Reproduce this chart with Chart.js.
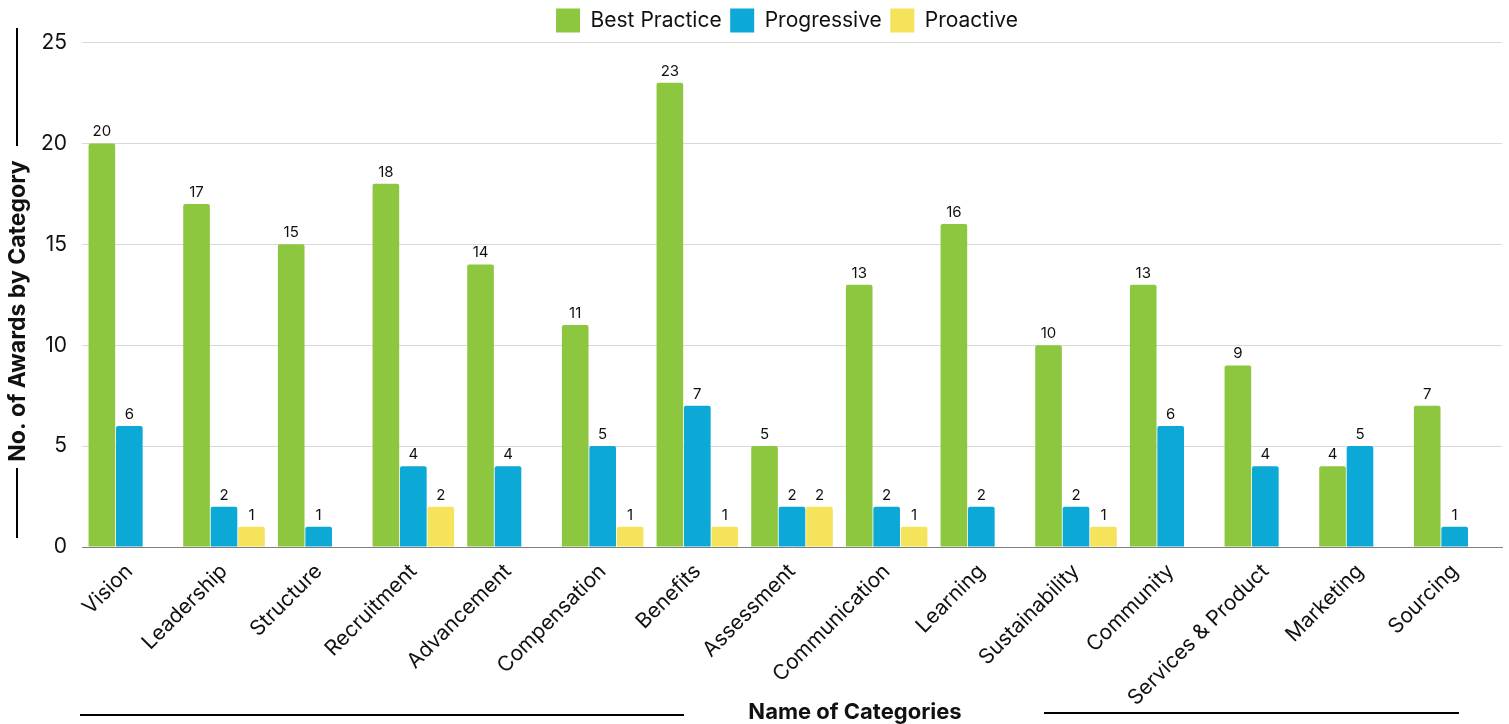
<!DOCTYPE html>
<html>
<head>
<meta charset="utf-8">
<title>Awards by Category</title>
<script src="https://cdn.jsdelivr.net/npm/chart.js@4.4.1/dist/chart.umd.min.js"></script>
<style>
    html, body { margin: 0; padding: 0; background: #fff; }
    #wrap { width: 1509px; height: 724px; position: relative; }
</style>
</head>
<body>
<div id="wrap"><canvas id="chart"></canvas></div>
<script>
const categories = [
    'Vision', 'Leadership', 'Structure', 'Recruitment', 'Advancement',
    'Compensation', 'Benefits', 'Assessment', 'Communication', 'Learning',
    'Sustainability', 'Community', 'Services & Product', 'Marketing', 'Sourcing',
];
const bestPractice = [20, 17, 15, 18, 14, 11, 23, 5, 13, 16, 10, 13, 9, 4, 7];
const progressive = [6, 2, 1, 4, 4, 5, 7, 2, 2, 2, 2, 6, 4, 5, 1];
const proactive = [0, 1, 0, 2, 0, 1, 1, 2, 1, 0, 1, 0, 0, 0, 0];
const yTicks = [0, 5, 10, 15, 20, 25];

const FONT = 'Inter, "Open Sans", sans-serif';
const TEXT = '#111111';

// values above bars, zeros left blank like the original
const valueLabels = {
    id: 'valueLabels',
    afterDatasetsDraw(chart) {
        const { ctx } = chart;
        ctx.save();
        ctx.font = `15px ${FONT}`;
        ctx.fillStyle = TEXT;
        ctx.textAlign = 'center';
        ctx.textBaseline = 'bottom';
        chart.data.datasets.forEach((ds, i) => {
            chart.getDatasetMeta(i).data.forEach((bar, j) => {
                const v = ds.data[j];
                if (!v) return;
                ctx.fillText(String(v), bar.x, bar.y - 4);
            });
        });
        ctx.restore();
    },
};

// the original legend sits a bit right of centre
const legendShift = {
    id: 'legendShift',
    afterLayout(chart) {
        chart.legend.left += 36;
        chart.legend.right += 36;
    },
};

// axis titles with the decorative rules either side
const axisTitles = {
    id: 'axisTitles',
    afterDraw(chart) {
        const { ctx } = chart;
        ctx.save();
        ctx.strokeStyle = '#000';
        ctx.lineWidth = 2;
        ctx.beginPath();
        ctx.moveTo(17, 28); ctx.lineTo(17, 146);
        ctx.moveTo(17, 468); ctx.lineTo(17, 538);
        ctx.moveTo(80, 715); ctx.lineTo(684, 715);
        ctx.moveTo(1044, 713); ctx.lineTo(1459, 713);
        ctx.stroke();

        ctx.fillStyle = TEXT;
        ctx.textAlign = 'center';
        ctx.textBaseline = 'middle';
        ctx.font = `bold 22px ${FONT}`;
        ctx.fillText('Name of Categories', 855, 712);

        ctx.font = `bold 23px ${FONT}`;
        ctx.translate(18, 311);
        ctx.rotate(-Math.PI / 2);
        ctx.fillText('No. of Awards by Category', 0, 0);
        ctx.restore();
    },
};

const bar = (label, data, color) => ({
    label,
    data,
    backgroundColor: color,
    borderWidth: 0,
    borderRadius: { topLeft: 2, topRight: 2 },
    borderSkipped: 'bottom',
    categoryPercentage: 0.87,
    barPercentage: 0.97,
});

new Chart(document.getElementById('chart'), {
    type: 'bar',
    data: {
        labels: categories,
        datasets: [
            bar('Best Practice', bestPractice, '#8dc63f'),
            bar('Progressive', progressive, '#0ca8d6'),
            bar('Proactive', proactive, '#f5e35c'),
        ],
    },
    options: {
        responsive: true,
        maintainAspectRatio: false,
        animation: false,
        layout: { padding: { top: 0, right: 7, left: 0, bottom: 0 } },
        plugins: {
            legend: {
                position: 'top',
                labels: {
                    boxWidth: 24,
                    boxHeight: 24,
                    padding: 8.5,
                    color: TEXT,
                    font: { family: FONT, size: 21 },
                },
            },
            tooltip: { enabled: false },
        },
        scales: {
            x: {
                grid: { display: false },
                border: { display: true, color: '#808080', width: 1 },
                ticks: {
                    color: TEXT,
                    font: { family: FONT, size: 21 },
                    minRotation: 45,
                    maxRotation: 45,
                    autoSkip: false,
                    padding: 4,
                },
                afterFit(scale) { scale.height = 177; },
            },
            y: {
                min: 0,
                max: 25,
                afterBuildTicks(scale) {
                    scale.ticks = yTicks.map(v => ({ value: v }));
                },
                grid: { color: '#d9d9d9', drawTicks: false },
                border: { display: false },
                ticks: {
                    color: TEXT,
                    font: { family: FONT, size: 21 },
                    padding: 15,
                },
                afterFit(scale) { scale.width = 82; },
            },
        },
    },
    plugins: [valueLabels, legendShift, axisTitles],
});
</script>
</body>
</html>
